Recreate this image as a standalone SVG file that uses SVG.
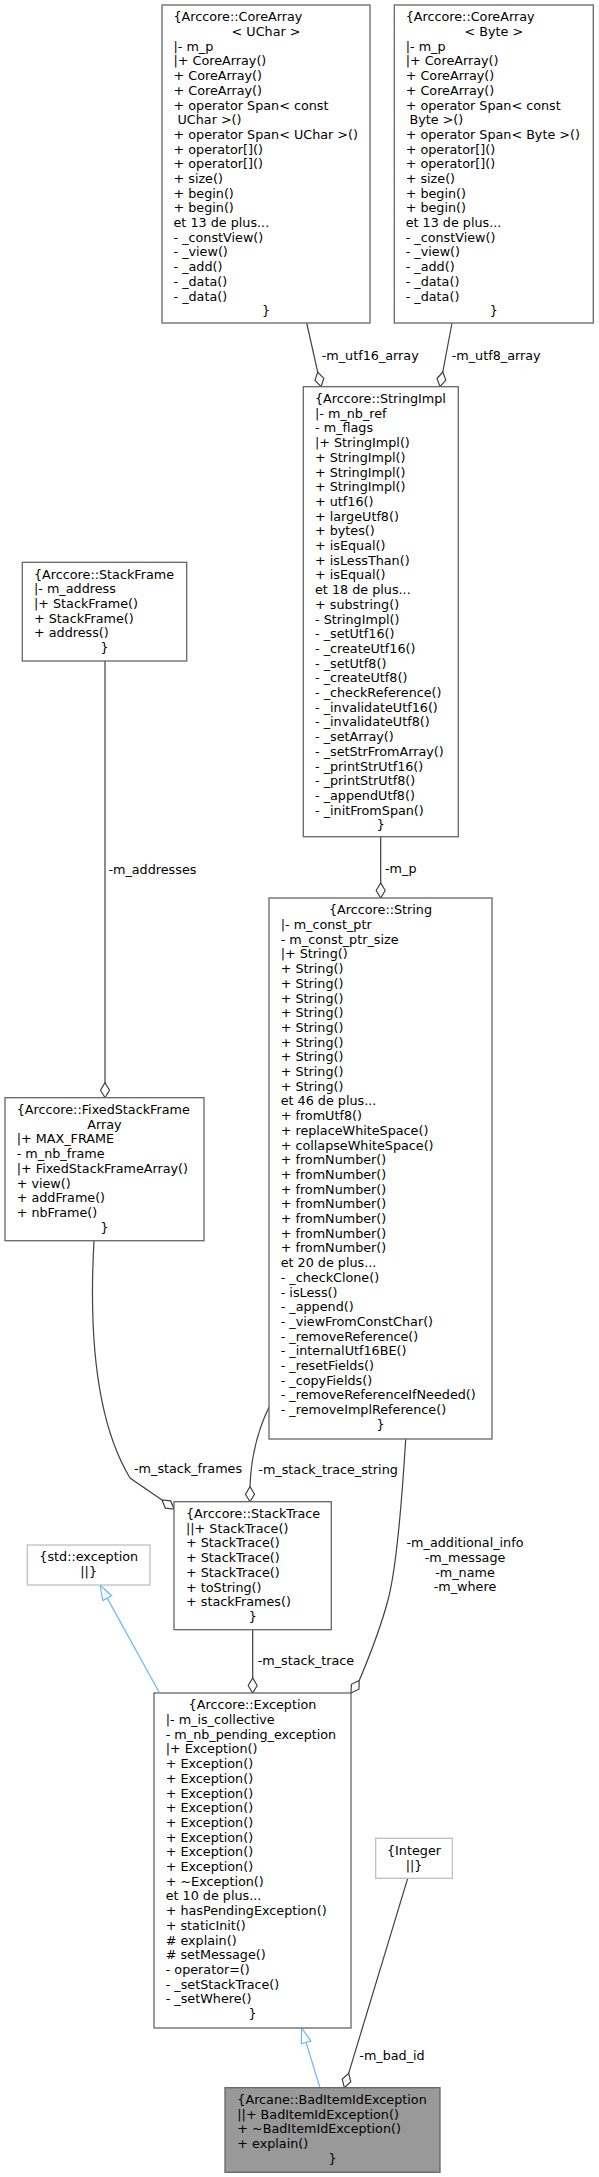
<svg xmlns="http://www.w3.org/2000/svg" width="599" height="2177" viewBox="0 0 599 2177">
<style>
text{font-family:"DejaVu Sans","Liberation Sans",sans-serif;font-size:12.75px;fill:#000}
.box{fill:#fff;stroke:#666;stroke-width:1.3}
.ext{fill:#fff;stroke:#bfbfbf;stroke-width:1.3}
.cur{fill:#999;stroke:#666;stroke-width:1.3}
.e{fill:none;stroke:#404040;stroke-width:1.2}
.d{fill:#fff;stroke:#404040;stroke-width:1.2}
.i{fill:none;stroke:#63b8ff;stroke-width:1.2}
.ia{fill:#fff;stroke:#63b8ff;stroke-width:1.2}
.m{text-anchor:middle}
</style>
<rect width="599" height="2177" fill="#fff"/>
<g id="connectors">
<path class="e" d="M306.7,323 L317.7,372.1"/>
<polygon class="d" points="321,386.7 323.8,378.4 317.7,372.1 315,380.4"/>
<text x="321.7" y="359.5">-m_utf16_array</text>
<path class="e" d="M452,323 L442.8,372"/>
<polygon class="d" points="440,386.7 445.8,380.1 442.8,372 437,378.5"/>
<text x="451.7" y="359.5">-m_utf8_array</text>
<path class="e" d="M380.7,836.7 L380.7,883"/>
<polygon class="d" points="380.7,898 385.2,890.5 380.7,883 376.2,890.5"/>
<text x="385" y="872.8">-m_p</text>
<path class="e" d="M105,661 L105,1082.7"/>
<polygon class="d" points="105,1097.7 109.5,1090.2 105,1082.7 100.5,1090.2"/>
<text x="108.4" y="874">-m_addresses</text>
<path class="e" d="M94,1241 C89,1330 95,1420 130,1478 L162,1500"/>
<polygon class="d" points="174,1509 170.7,1500.9 162,1500 165.3,1508.1"/>
<text x="134" y="1473">-m_stack_frames</text>
<path class="e" d="M269,1407 C258,1430 251,1455 250,1486.7"/>
<polygon class="d" points="250,1501.7 254.5,1494.2 250,1486.7 245.5,1494.2"/>
<text x="258.3" y="1473.5">-m_stack_trace_string</text>
<path class="e" d="M252.7,1629.7 L252.7,1678"/>
<polygon class="d" points="252.7,1693 257.2,1685.5 252.7,1678 248.2,1685.5"/>
<text x="257.7" y="1665">-m_stack_trace</text>
<path class="e" d="M405.7,1439 C402,1500 396,1570 388,1600 C380,1630 370,1655 359.25,1680.5"/>
<polygon class="d" points="351,1693 358.9,1689.2 359.25,1680.5 351.4,1684.3"/>
<text class="m" x="465" y="1547.2">-m_additional_info</text>
<text class="m" x="465" y="1561.9">-m_message</text>
<text class="m" x="465" y="1576.6">-m_name</text>
<text class="m" x="465" y="1591.3">-m_where</text>
<path class="e" d="M407.7,1878.3 L348.65,2073.35"/>
<polygon class="d" points="344.3,2087.7 350.8,2081.8 348.65,2073.35 342.2,2079.2"/>
<text x="359.3" y="2060">-m_bad_id</text>
<path class="i" d="M159,1692 L107.2,1598.1"/>
<polygon class="ia" points="100,1585 111.6,1595.7 102.8,1600.5"/>
<path class="i" d="M320,2087.7 L306.1,2042.4"/>
<polygon class="ia" points="301.7,2028 310.9,2040.9 301.3,2043.8"/>
</g>
<g id="node_corearray_uchar">
<rect class="box" x="162" y="5" width="208" height="318"/>
<text x="173.5" y="21.3"><tspan x="173.5">{Arccore::CoreArray</tspan><tspan class="m" x="266" dy="14.7">&lt; UChar &gt;</tspan><tspan x="173.5" dy="14.7">|- m_p</tspan><tspan x="173.5" dy="14.7">|+ CoreArray()</tspan><tspan x="173.5" dy="14.7">+ CoreArray()</tspan><tspan x="173.5" dy="14.7">+ CoreArray()</tspan><tspan x="173.5" dy="14.7">+ operator Span&lt; const</tspan><tspan x="177.5" dy="14.7">UChar &gt;()</tspan><tspan x="173.5" dy="14.7">+ operator Span&lt; UChar &gt;()</tspan><tspan x="173.5" dy="14.7">+ operator[]()</tspan><tspan x="173.5" dy="14.7">+ operator[]()</tspan><tspan x="173.5" dy="14.7">+ size()</tspan><tspan x="173.5" dy="14.7">+ begin()</tspan><tspan x="173.5" dy="14.7">+ begin()</tspan><tspan x="173.5" dy="14.7">et 13 de plus...</tspan><tspan x="173.5" dy="14.7">- _constView()</tspan><tspan x="173.5" dy="14.7">- _view()</tspan><tspan x="173.5" dy="14.7">- _add()</tspan><tspan x="173.5" dy="14.7">- _data()</tspan><tspan x="173.5" dy="14.7">- _data()</tspan><tspan class="m" x="266" dy="14.7">}</tspan></text>
</g>
<g id="node_corearray_byte">
<rect class="box" x="394.3" y="5" width="199" height="318"/>
<text x="405.7" y="21.3"><tspan x="405.7">{Arccore::CoreArray</tspan><tspan class="m" x="493.8" dy="14.7">&lt; Byte &gt;</tspan><tspan x="405.7" dy="14.7">|- m_p</tspan><tspan x="405.7" dy="14.7">|+ CoreArray()</tspan><tspan x="405.7" dy="14.7">+ CoreArray()</tspan><tspan x="405.7" dy="14.7">+ CoreArray()</tspan><tspan x="405.7" dy="14.7">+ operator Span&lt; const</tspan><tspan x="409.5" dy="14.7">Byte &gt;()</tspan><tspan x="405.7" dy="14.7">+ operator Span&lt; Byte &gt;()</tspan><tspan x="405.7" dy="14.7">+ operator[]()</tspan><tspan x="405.7" dy="14.7">+ operator[]()</tspan><tspan x="405.7" dy="14.7">+ size()</tspan><tspan x="405.7" dy="14.7">+ begin()</tspan><tspan x="405.7" dy="14.7">+ begin()</tspan><tspan x="405.7" dy="14.7">et 13 de plus...</tspan><tspan x="405.7" dy="14.7">- _constView()</tspan><tspan x="405.7" dy="14.7">- _view()</tspan><tspan x="405.7" dy="14.7">- _add()</tspan><tspan x="405.7" dy="14.7">- _data()</tspan><tspan x="405.7" dy="14.7">- _data()</tspan><tspan class="m" x="493.8" dy="14.7">}</tspan></text>
</g>
<g id="node_stringimpl">
<rect class="box" x="303.3" y="386.7" width="155" height="450"/>
<text x="315" y="403"><tspan x="315">{Arccore::StringImpl</tspan><tspan x="315" dy="14.7">|- m_nb_ref</tspan><tspan x="315" dy="14.7">- m_flags</tspan><tspan x="315" dy="14.7">|+ StringImpl()</tspan><tspan x="315" dy="14.7">+ StringImpl()</tspan><tspan x="315" dy="14.7">+ StringImpl()</tspan><tspan x="315" dy="14.7">+ StringImpl()</tspan><tspan x="315" dy="14.7">+ utf16()</tspan><tspan x="315" dy="14.7">+ largeUtf8()</tspan><tspan x="315" dy="14.7">+ bytes()</tspan><tspan x="315" dy="14.7">+ isEqual()</tspan><tspan x="315" dy="14.7">+ isLessThan()</tspan><tspan x="315" dy="14.7">+ isEqual()</tspan><tspan x="315" dy="14.7">et 18 de plus...</tspan><tspan x="315" dy="14.7">+ substring()</tspan><tspan x="315" dy="14.7">- StringImpl()</tspan><tspan x="315" dy="14.7">- _setUtf16()</tspan><tspan x="315" dy="14.7">- _createUtf16()</tspan><tspan x="315" dy="14.7">- _setUtf8()</tspan><tspan x="315" dy="14.7">- _createUtf8()</tspan><tspan x="315" dy="14.7">- _checkReference()</tspan><tspan x="315" dy="14.7">- _invalidateUtf16()</tspan><tspan x="315" dy="14.7">- _invalidateUtf8()</tspan><tspan x="315" dy="14.7">- _setArray()</tspan><tspan x="315" dy="14.7">- _setStrFromArray()</tspan><tspan x="315" dy="14.7">- _printStrUtf16()</tspan><tspan x="315" dy="14.7">- _printStrUtf8()</tspan><tspan x="315" dy="14.7">- _appendUtf8()</tspan><tspan x="315" dy="14.7">- _initFromSpan()</tspan><tspan class="m" x="380.8" dy="14.7">}</tspan></text>
</g>
<g id="node_stackframe">
<rect class="box" x="22.3" y="562.3" width="164.4" height="98.7"/>
<text x="34" y="578.6"><tspan x="34">{Arccore::StackFrame</tspan><tspan x="34" dy="14.7">|- m_address</tspan><tspan x="34" dy="14.7">|+ StackFrame()</tspan><tspan x="34" dy="14.7">+ StackFrame()</tspan><tspan x="34" dy="14.7">+ address()</tspan><tspan class="m" x="104.5" dy="14.7">}</tspan></text>
</g>
<g id="node_fixedstackframearray">
<rect class="box" x="5" y="1097.7" width="199" height="143"/>
<text x="16.7" y="1114"><tspan x="16.7">{Arccore::FixedStackFrame</tspan><tspan class="m" x="104.5" dy="14.7">Array</tspan><tspan x="16.7" dy="14.7">|+ MAX_FRAME</tspan><tspan x="16.7" dy="14.7">- m_nb_frame</tspan><tspan x="16.7" dy="14.7">|+ FixedStackFrameArray()</tspan><tspan x="16.7" dy="14.7">+ view()</tspan><tspan x="16.7" dy="14.7">+ addFrame()</tspan><tspan x="16.7" dy="14.7">+ nbFrame()</tspan><tspan class="m" x="104.5" dy="14.7">}</tspan></text>
</g>
<g id="node_string">
<rect class="box" x="269" y="898" width="223" height="541"/>
<text x="280.7" y="914.3"><tspan class="m" x="380.5">{Arccore::String</tspan><tspan x="280.7" dy="14.7">|- m_const_ptr</tspan><tspan x="280.7" dy="14.7">- m_const_ptr_size</tspan><tspan x="280.7" dy="14.7">|+ String()</tspan><tspan x="280.7" dy="14.7">+ String()</tspan><tspan x="280.7" dy="14.7">+ String()</tspan><tspan x="280.7" dy="14.7">+ String()</tspan><tspan x="280.7" dy="14.7">+ String()</tspan><tspan x="280.7" dy="14.7">+ String()</tspan><tspan x="280.7" dy="14.7">+ String()</tspan><tspan x="280.7" dy="14.7">+ String()</tspan><tspan x="280.7" dy="14.7">+ String()</tspan><tspan x="280.7" dy="14.7">+ String()</tspan><tspan x="280.7" dy="14.7">et 46 de plus...</tspan><tspan x="280.7" dy="14.7">+ fromUtf8()</tspan><tspan x="280.7" dy="14.7">+ replaceWhiteSpace()</tspan><tspan x="280.7" dy="14.7">+ collapseWhiteSpace()</tspan><tspan x="280.7" dy="14.7">+ fromNumber()</tspan><tspan x="280.7" dy="14.7">+ fromNumber()</tspan><tspan x="280.7" dy="14.7">+ fromNumber()</tspan><tspan x="280.7" dy="14.7">+ fromNumber()</tspan><tspan x="280.7" dy="14.7">+ fromNumber()</tspan><tspan x="280.7" dy="14.7">+ fromNumber()</tspan><tspan x="280.7" dy="14.7">+ fromNumber()</tspan><tspan x="280.7" dy="14.7">et 20 de plus...</tspan><tspan x="280.7" dy="14.7">- _checkClone()</tspan><tspan x="280.7" dy="14.7">- isLess()</tspan><tspan x="280.7" dy="14.7">- _append()</tspan><tspan x="280.7" dy="14.7">- _viewFromConstChar()</tspan><tspan x="280.7" dy="14.7">- _removeReference()</tspan><tspan x="280.7" dy="14.7">- _internalUtf16BE()</tspan><tspan x="280.7" dy="14.7">- _resetFields()</tspan><tspan x="280.7" dy="14.7">- _copyFields()</tspan><tspan x="280.7" dy="14.7">- _removeReferenceIfNeeded()</tspan><tspan x="280.7" dy="14.7">- _removeImplReference()</tspan><tspan class="m" x="380.5" dy="14.7">}</tspan></text>
</g>
<g id="node_stacktrace">
<rect class="box" x="174" y="1501.7" width="157.3" height="128"/>
<text x="186" y="1518"><tspan x="186">{Arccore::StackTrace</tspan><tspan x="186" dy="14.7">||+ StackTrace()</tspan><tspan x="186" dy="14.7">+ StackTrace()</tspan><tspan x="186" dy="14.7">+ StackTrace()</tspan><tspan x="186" dy="14.7">+ StackTrace()</tspan><tspan x="186" dy="14.7">+ toString()</tspan><tspan x="186" dy="14.7">+ stackFrames()</tspan><tspan class="m" x="252.7" dy="14.7">}</tspan></text>
</g>
<g id="node_std_exception">
<rect class="ext" x="27.3" y="1545" width="122.7" height="40"/>
<text class="m" x="88.7" y="1561">{std::exception</text>
<text class="m" x="88.7" y="1576">||}</text>
</g>
<g id="node_exception">
<rect class="box" x="154" y="1693" width="197" height="335"/>
<text x="165.7" y="1709.3"><tspan class="m" x="252.5">{Arccore::Exception</tspan><tspan x="165.7" dy="14.7">|- m_is_collective</tspan><tspan x="165.7" dy="14.7">- m_nb_pending_exception</tspan><tspan x="165.7" dy="14.7">|+ Exception()</tspan><tspan x="165.7" dy="14.7">+ Exception()</tspan><tspan x="165.7" dy="14.7">+ Exception()</tspan><tspan x="165.7" dy="14.7">+ Exception()</tspan><tspan x="165.7" dy="14.7">+ Exception()</tspan><tspan x="165.7" dy="14.7">+ Exception()</tspan><tspan x="165.7" dy="14.7">+ Exception()</tspan><tspan x="165.7" dy="14.7">+ Exception()</tspan><tspan x="165.7" dy="14.7">+ Exception()</tspan><tspan x="165.7" dy="14.7">+ ~Exception()</tspan><tspan x="165.7" dy="14.7">et 10 de plus...</tspan><tspan x="165.7" dy="14.7">+ hasPendingException()</tspan><tspan x="165.7" dy="14.7">+ staticInit()</tspan><tspan x="165.7" dy="14.7"># explain()</tspan><tspan x="165.7" dy="14.7"># setMessage()</tspan><tspan x="165.7" dy="14.7">- operator=()</tspan><tspan x="165.7" dy="14.7">- _setStackTrace()</tspan><tspan x="165.7" dy="14.7">- _setWhere()</tspan><tspan class="m" x="252.5" dy="14.7">}</tspan></text>
</g>
<g id="node_integer">
<rect class="ext" x="375.7" y="1838.3" width="76.6" height="40"/>
<text class="m" x="414" y="1855">{Integer</text>
<text class="m" x="414" y="1870">||}</text>
</g>
<g id="node_baditemidexception">
<rect class="cur" x="225" y="2087.7" width="215" height="84.6"/>
<text x="237.3" y="2104"><tspan x="237.3">{Arcane::BadItemIdException</tspan><tspan x="237.3" dy="14.7">||+ BadItemIdException()</tspan><tspan x="237.3" dy="14.7">+ ~BadItemIdException()</tspan><tspan x="237.3" dy="14.7">+ explain()</tspan><tspan class="m" x="332.5" dy="14.7">}</tspan></text>
</g>
</svg>
